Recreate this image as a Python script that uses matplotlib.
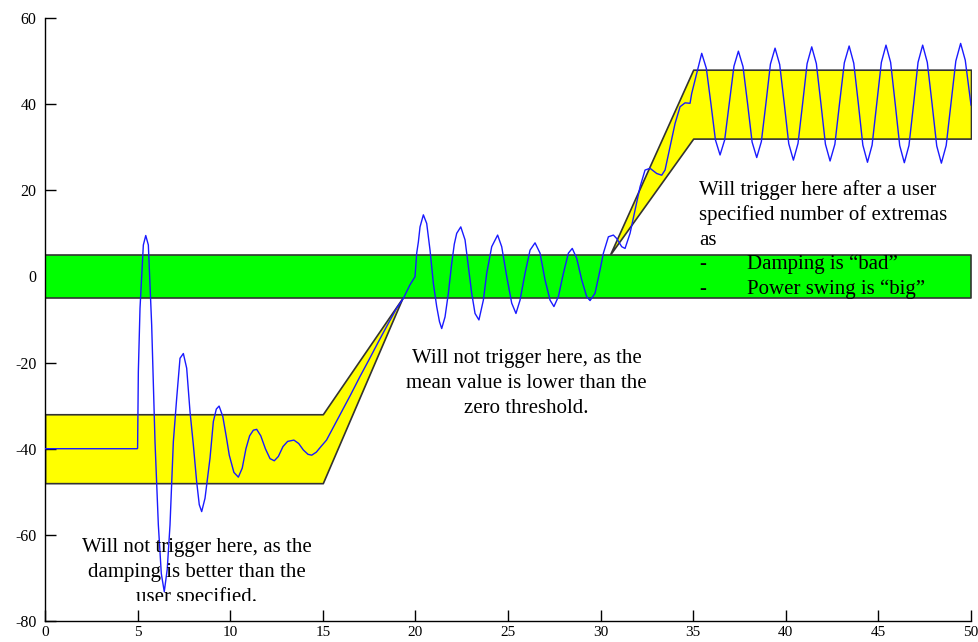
import matplotlib
matplotlib.use("Agg")
import matplotlib.pyplot as plt
from matplotlib.transforms import Bbox, TransformedBbox

# ---------------- data ----------------
x_ticks = [0, 5, 10, 15, 20, 25, 30, 35, 40, 45, 50]
y_ticks = [-80, -60, -40, -20, 0, 20, 40, 60]

# zero-threshold band (green)
green_lo, green_hi = -5, 5

# mean-value band (yellow), lower and upper parts
yel1_x = [0, 15, 19.3]
yel1_lo = [-48, -48, -5]
yel1_hi = [-32, -32, -5]
yel2_x = [30.5, 35, 50]
yel2_lo = [5, 32, 32]
yel2_hi = [5, 48, 48]

# measured signal (blue)
signal_x = [
    0, 4.98, 5.0, 5.04, 5.13, 5.31, 5.44, 5.58, 5.76, 5.94, 6.12, 6.28, 6.44, 6.6, 6.75, 6.93,
    7.11, 7.29, 7.47, 7.65, 7.83, 8.01, 8.19, 8.33, 8.46, 8.64, 8.91, 9.09, 9.25, 9.40, 9.6,
    9.8, 9.95, 10.2, 10.44, 10.65, 10.85, 11.05, 11.25, 11.43, 11.65, 11.9, 12.15, 12.38,
    12.6, 12.85, 13.1, 13.44, 13.7, 13.95, 14.2, 14.4, 14.65, 14.9,
    15.2, 15.57, 16.0, 16.5, 17.0, 17.5, 18.0, 18.5, 19.0, 19.35, 19.7, 19.98, 20.07, 20.16,
    20.25, 20.43, 20.61, 20.79, 20.97, 21.15, 21.3, 21.42, 21.6, 21.78, 21.96, 22.1, 22.23,
    22.45, 22.68, 22.86, 23.04, 23.22, 23.43, 23.67, 23.85, 24.12, 24.44, 24.66, 24.93, 25.2,
    25.43, 25.65, 25.92, 26.19, 26.46, 26.73, 27.0, 27.27, 27.48, 27.72, 27.99, 28.26, 28.47,
    28.71, 28.98, 29.25, 29.43, 29.7, 29.97, 30.15, 30.42, 30.69, 30.87, 31.14, 31.32, 31.59,
    31.86, 32.13, 32.4, 32.67, 33.03, 33.30, 33.48, 33.75, 34.02, 34.29, 34.56, 34.83, 34.92,
    35.1, 35.28, 35.46,
    35.71, 35.96, 36.2, 36.45, 36.7, 36.95, 37.2, 37.44, 37.69, 37.94, 38.18, 38.43,
    38.68, 38.93, 39.17, 39.42, 39.67, 39.92, 40.16, 40.41, 40.66, 40.91, 41.15, 41.40,
    41.65, 41.9, 42.14, 42.39, 42.65, 42.9, 43.16, 43.42, 43.67, 43.92, 44.16, 44.41,
    44.66, 44.91, 45.16, 45.41, 45.66, 45.91, 46.15, 46.40, 46.65, 46.9, 47.14, 47.39,
    47.64, 47.9, 48.15, 48.40, 48.66, 48.92, 49.18, 49.44, 49.69, 50.0,
]
signal_y = [
    -40, -40, -39.9, -22.1, -7.4, 7.3, 9.5, 7.3, -11.3, -38.4, -57.7, -69, -73.2, -68, -57.7, -38.4,
    -28.3, -19.0, -17.9, -21.3, -31.4, -39.1, -47.7, -53, -54.6, -51.5, -42.2, -33.7, -30.8, -30.1, -32.5,
    -37.5, -41.5, -45.5, -46.6, -44.5, -40, -37, -35.7, -35.5, -37, -40, -42.3, -42.8,
    -41.8, -39.5, -38.3, -38.0, -38.8, -40.3, -41.3, -41.5, -40.8, -39.5,
    -38.0, -35.0, -31.5, -27.5, -23.3, -19.3, -15.2, -11.2, -7.3, -5.1, -2.0, -0.06, 5.4, 8,
    11.5, 14.3, 12.3, 6.1, -1.6, -7.0, -10.5, -12.1, -9.4, -3.9, 3.0, 7.5, 10.0,
    11.5, 8.5, 2.3, -3.9, -8.6, -10.1, -5.5, 0.7, 6.9, 9.6, 6.9, 0.0, -6.2,
    -8.6, -5.5, 0.7, 6.1, 7.8, 5.4, -0.8, -5.5, -7.0, -4.7, 0.7, 5.4, 6.5,
    4.2, -0.8, -4.7, -5.6, -3.9, 1.5, 5.4, 9.2, 9.6, 8.8, 6.9, 6.5, 10.0,
    15.4, 20.8, 24.7, 25.1, 23.9, 23.5, 24.7, 30.1, 35.5, 39.4, 40.3, 40.2, 42.5,
    45.6, 48.7, 51.8,
    48.3, 40.0, 31.7, 28.2, 31.7, 40.2, 48.8, 52.3, 48.7, 40.0, 31.2, 27.6,
    31.3, 40.3, 49.3, 53.0, 49.2, 40.0, 30.8, 27.0, 30.9, 40.2, 49.4, 53.3,
    49.4, 40.0, 30.7, 26.8, 30.7, 40.1, 49.6, 53.5, 49.5, 40.0, 30.5, 26.5,
    30.5, 40.1, 49.7, 53.7, 49.7, 40.0, 30.4, 26.4, 30.4, 40.0, 49.7, 53.7,
    49.7, 40.0, 30.3, 26.3, 30.4, 40.2, 50.0, 54.1, 50.2, 39.8,
]

text_bottom = ["Will not trigger here, as the", "damping is better than the", "user specified."]
text_middle = ["Will not trigger here, as the", "mean value is lower than the", "zero threshold."]
text_upper = ["Will trigger here after a user", "specified number of extremas", "as"]
text_bullets = ["Damping is \u201cbad\u201d", "Power swing is \u201cbig\u201d"]

# ---------------- plot ----------------
plt.rcParams['font.family'] = ['Liberation Serif', 'DejaVu Serif']

fig = plt.figure(figsize=(9.79, 6.42), dpi=100)
ax = fig.add_axes([45 / 979, 21 / 642, 926 / 979, 603 / 642])

edge = '#333333'
ax.fill_between(yel1_x, yel1_lo, yel1_hi, facecolor='#FFFF00', edgecolor=edge, linewidth=1.2, zorder=1)
ax.fill_between(yel2_x, yel2_lo, yel2_hi, facecolor='#FFFF00', edgecolor=edge, linewidth=1.2, zorder=1)
ax.fill_between([0, 50], [green_lo, green_lo], [green_hi, green_hi],
                facecolor='#00FF00', edgecolor=edge, linewidth=1.2, zorder=2)

ax.plot(signal_x, signal_y, color='#1a1aff', linewidth=1.0, zorder=4)

ax.set_xlim(0, 50)
ax.set_ylim(-80, 60)
ax.set_xticks(x_ticks)
ax.set_yticks(y_ticks)
ax.set_xticklabels([str(v) for v in x_ticks])
ax.set_yticklabels([str(v) for v in y_ticks])
ax.tick_params(axis='both', direction='in', length=8, width=1, labelsize=11.5, color='black')
ax.tick_params(axis='y', pad=6)
ax.tick_params(axis='x', pad=3.5, labelsize=11)
for s in ['top', 'right']:
    ax.spines[s].set_visible(False)
for s in ['left', 'bottom']:
    ax.spines[s].set_linewidth(1.0)
    ax.spines[s].set_color('black')

fs = 15
# bottom-left text (clipped at the bottom)
clip = TransformedBbox(Bbox([[0, -75.3], [50, 60]]), ax.transData)
for line, yb in zip(text_bottom, [-64.0, -69.8, -75.6]):
    t = ax.text(8.2, yb, line, ha='center', va='baseline', fontsize=fs, color='black', zorder=5)
    t.set_clip_box(clip)
    t.set_clip_on(True)

for line, yb in zip(text_middle, [-20.1, -25.9, -31.6]):
    ax.text(26.0, yb, line, ha='center', va='baseline', fontsize=fs, color='black', zorder=5)

for line, yb in zip(text_upper, [18.9, 13.1, 7.4]):
    ax.text(35.3, yb, line, ha='left', va='baseline', fontsize=fs, color='black', zorder=5)

for line, yb in zip(text_bullets, [1.7, -4.0]):
    ax.text(35.3, yb, "-", ha='left', va='baseline', fontsize=fs, color='black', zorder=5)
    ax.text(37.9, yb, line, ha='left', va='baseline', fontsize=fs, color='black', zorder=5)

fig.savefig('out.png', dpi=100)
